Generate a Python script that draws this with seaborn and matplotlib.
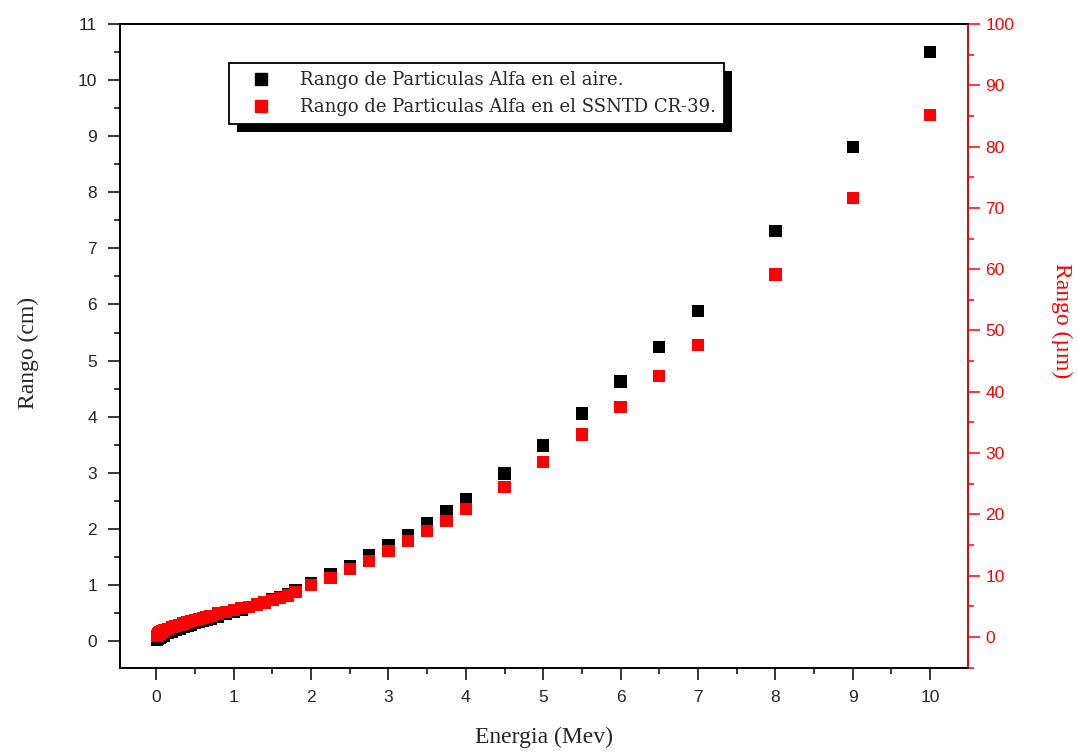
import numpy as np
import pandas as pd
import matplotlib
matplotlib.use("Agg")
import matplotlib.pyplot as plt
from matplotlib.patches import Rectangle
from matplotlib.lines import Line2D
from matplotlib.ticker import MultipleLocator
import seaborn as sns

energy = [0.01, 0.02, 0.03, 0.04, 0.05, 0.06, 0.07, 0.08, 0.09, 0.10,
          0.15, 0.20, 0.25, 0.30, 0.35, 0.40, 0.45, 0.50, 0.55, 0.60,
          0.65, 0.70, 0.80, 0.90, 1.00, 1.10, 1.20, 1.30, 1.40, 1.50,
          1.60, 1.70, 1.80, 2.00, 2.25, 2.50, 2.75, 3.00, 3.25, 3.50,
          3.75, 4.00, 4.50, 5.00, 5.50, 6.00, 6.50, 7.00, 8.00, 9.00, 10.00]
range_air_cm = [0.03, 0.04, 0.05, 0.06, 0.07, 0.08, 0.09, 0.10, 0.10, 0.11,
                0.14, 0.17, 0.20, 0.22, 0.25, 0.27, 0.29, 0.32, 0.34, 0.36,
                0.38, 0.40, 0.44, 0.48, 0.52, 0.56, 0.61, 0.65, 0.70, 0.74,
                0.79, 0.84, 0.90, 1.03, 1.19, 1.34, 1.53, 1.71, 1.89, 2.10,
                2.32, 2.53, 2.99, 3.49, 4.06, 4.63, 5.24, 5.88, 7.31, 8.81, 10.50]
range_cr39_um = [0.2, 0.35, 0.5, 0.6, 0.7, 0.8, 0.9, 0.95, 1.0, 1.1,
                 1.3, 1.6, 1.8, 2.0, 2.2, 2.4, 2.6, 2.8, 2.95, 3.1,
                 3.3, 3.45, 3.8, 4.1, 4.4, 4.7, 4.9, 5.3, 5.6, 6.0,
                 6.4, 6.8, 7.3, 8.5, 9.6, 11.1, 12.4, 14.0, 15.7, 17.3,
                 18.9, 20.9, 24.5, 28.5, 33.0, 37.5, 42.6, 47.6, 59.1, 71.6, 85.2]

label_air = "Rango de Particulas Alfa en el aire."
label_cr39 = "Rango de Particulas Alfa en el SSNTD CR-39."

df = pd.DataFrame({"E": energy, "air": range_air_cm, "cr39": range_cr39_um})

sns.set_style("ticks")
plt.rcParams["font.family"] = ["Liberation Sans", "DejaVu Sans"]

fig = plt.figure(figsize=(10.78, 7.55), dpi=100)
ax = fig.add_axes([120/1078, (755-668)/755, 848/1078, 644/755])
ax2 = ax.twinx()

sns.scatterplot(data=df, x="E", y="air", ax=ax, marker="s", s=80,
                color="black", edgecolor="none", zorder=3, legend=False)
sns.scatterplot(data=df, x="E", y="cr39", ax=ax2, marker="s", s=80,
                color="red", edgecolor="none", zorder=3, legend=False)

ax.set_xlim(-0.47, 10.49)
ax.set_ylim(-0.48, 11)
ax2.set_ylim(-5.06, 100)

ax.xaxis.set_major_locator(MultipleLocator(1))
ax.xaxis.set_minor_locator(MultipleLocator(0.5))
ax.yaxis.set_major_locator(MultipleLocator(1))
ax.yaxis.set_minor_locator(MultipleLocator(0.5))
ax2.yaxis.set_major_locator(MultipleLocator(10))
ax2.yaxis.set_minor_locator(MultipleLocator(5))

for a in (ax, ax2):
    for s in a.spines.values():
        s.set_visible(True)
        s.set_linewidth(1.2)
        s.set_color("black")
ax2.spines["right"].set_color("red")

ax.tick_params(axis="both", which="major", direction="out", length=8.5,
               width=1.1, labelsize=12.5, color="black", pad=7)
ax.tick_params(axis="both", which="minor", direction="out", length=4.5,
               width=1.1, color="black")
ax.tick_params(axis="y", which="major", pad=8)
ax2.tick_params(axis="y", which="major", direction="out", length=8.5,
                width=1.1, labelsize=12.5, color="red", labelcolor="red", pad=4)
ax2.tick_params(axis="y", which="minor", direction="out", length=4.5,
                width=1.1, color="red")

serif = ["Liberation Serif", "DejaVu Serif"]
ax.set_xlabel("Energia (Mev)", fontsize=17, family=serif)
ax.set_ylabel("Rango (cm)", fontsize=17, family=serif)
ax2.set_ylabel("Rango (µm)", fontsize=17, family=serif, color="red",
               rotation=270, va="center")
ax2.yaxis.set_label_coords(1.11, 0.54)
ax.xaxis.set_label_coords(0.5, -0.092)
ax.yaxis.set_label_coords(-0.095, 0.49)

handles = [Line2D([], [], marker="s", linestyle="none", color="black", markersize=8),
           Line2D([], [], marker="s", linestyle="none", color="red", markersize=8)]
leg = ax2.legend(handles, [label_air, label_cr39], loc="upper left",
                 bbox_to_anchor=((229-120)/848, 1 - (63-24)/644),
                 frameon=True, fancybox=False, edgecolor="black",
                 framealpha=1, prop={"family": ["DejaVu Serif"], "size": 13},
                 handletextpad=0.9, borderpad=0.45, labelspacing=0.5,
                 handlelength=2.6, borderaxespad=0)
leg.get_frame().set_linewidth(1.3)
leg.set_zorder(10)

fig.canvas.draw()
bb = leg.get_window_extent().transformed(ax2.transAxes.inverted())
dx = 8 / 848
dy = 8 / 644
shadow = Rectangle((bb.x0 + dx, bb.y0 - dy), bb.width, bb.height,
                   transform=ax2.transAxes, facecolor="black",
                   edgecolor="none", zorder=9, clip_on=False)
ax2.add_patch(shadow)

fig.savefig("out.png", dpi=100)
